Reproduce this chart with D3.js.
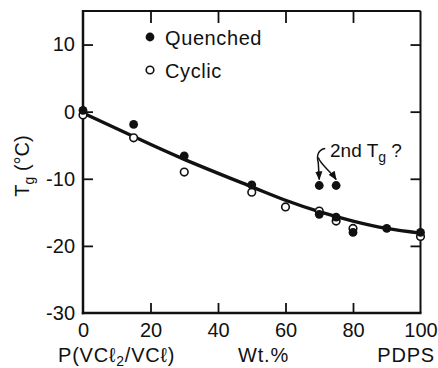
<!DOCTYPE html>
<html>
<head>
<meta charset="utf-8">
<script src="https://cdn.jsdelivr.net/npm/d3@7"></script>
<style>
  html, body { margin: 0; padding: 0; background: #fff; }
  svg { display: block; }
  text { font-family: "Liberation Sans", Arial, sans-serif; fill: #111; }
</style>
</head>
<body>
<svg id="chart" width="438" height="368"></svg>
<script>
// Composition in Wt.% of PDPS
const quenchedX = [0, 15, 30, 50, 70, 75, 80, 90, 100];
const quenchedY = [0.2, -1.9, -6.6, -10.9, -15.3, -15.7, -18.0, -17.4, -18.0];
const cyclicX = [0, 15, 30, 50, 60, 70, 75, 80, 100];
const cyclicY = [-0.5, -3.9, -9.0, -12.0, -14.2, -14.8, -16.3, -17.4, -18.6];
// Possible second glass transition (quenched samples)
const secondTgX = [70, 75];
const secondTgY = [-11, -11];
// Smooth trend line through the data
const fitX = [0, 15, 30, 50, 60, 70, 80, 90, 100];
const fitY = [-0.2, -3.7, -7.1, -11.2, -13.2, -14.9, -16.3, -17.4, -18.1];

const xTicks = [0, 20, 40, 60, 80, 100];
const yTicks = [10, 0, -10, -20, -30];

const svg = d3.select("#chart");
const L = 83, R = 420.5, T = 11, B = 313;
const x = d3.scaleLinear().domain([0, 100]).range([L, R]);
const y = d3.scaleLinear().domain([-30, 15]).range([B, T]);

// Frame
const frame = svg.append("g").attr("stroke", "#111").attr("fill", "none");
frame.append("line").attr("x1", L).attr("x2", R).attr("y1", T).attr("y2", T).attr("stroke-width", 2);
frame.append("line").attr("x1", R).attr("x2", R).attr("y1", T).attr("y2", B).attr("stroke-width", 2);
frame.append("line").attr("x1", L).attr("x2", L).attr("y1", T - 1).attr("y2", B + 1.2).attr("stroke-width", 2.5);
frame.append("line").attr("x1", L - 1.2).attr("x2", R + 1).attr("y1", B).attr("y2", B).attr("stroke-width", 2.5);

function styleAxis(g) {
  g.select(".domain").remove();
  g.selectAll(".tick line").attr("stroke", "#111").attr("stroke-width", 1.8);
  g.selectAll(".tick text").style("font-size", "20px").style("font-family", "'Liberation Sans', Arial, sans-serif").attr("fill", "#111");
}

// Bottom axis with inward ticks and labels
svg.append("g").attr("transform", `translate(0,${B})`)
  .call(d3.axisBottom(x).tickValues(xTicks).tickSizeInner(-10).tickSizeOuter(0).tickPadding(10).tickFormat(d => String(d)))
  .call(styleAxis)
  .call(g => g.selectAll(".tick").filter(d => d === 0 || d === 100).select("line").remove());

// Top axis: inward ticks only
svg.append("g").attr("transform", `translate(0,${T})`)
  .call(d3.axisTop(x).tickValues([20, 40, 60, 80]).tickSizeInner(-12).tickSizeOuter(0).tickFormat(""))
  .call(styleAxis);

// Left axis with inward ticks and labels
svg.append("g").attr("transform", `translate(${L},0)`)
  .call(d3.axisLeft(y).tickValues(yTicks).tickSizeInner(-10).tickSizeOuter(0).tickPadding(8).tickFormat(d => String(d)))
  .call(styleAxis)
  .call(g => g.selectAll(".tick").filter(d => d === -30).select("line").remove());

// Right axis: inward ticks only
svg.append("g").attr("transform", `translate(${R},0)`)
  .call(d3.axisRight(y).tickValues([10, 0, -10, -20]).tickSizeInner(-10).tickSizeOuter(0).tickFormat(""))
  .call(styleAxis);

// Trend curve
const fitData = fitX.map((v, i) => [v, fitY[i]]);
svg.append("path")
  .datum(fitData)
  .attr("fill", "none")
  .attr("stroke", "#111")
  .attr("stroke-width", 3.4)
  .attr("stroke-linecap", "round")
  .attr("d", d3.line().x(d => x(d[0])).y(d => y(d[1])).curve(d3.curveNatural));

// Cyclic (open circles)
svg.append("g").selectAll("circle")
  .data(cyclicX.map((v, i) => [v, cyclicY[i]]))
  .join("circle")
  .attr("cx", d => x(d[0])).attr("cy", d => y(d[1])).attr("r", 3.8)
  .attr("fill", "#fff").attr("stroke", "#111").attr("stroke-width", 1.6);

// Quenched (filled circles)
const qData = quenchedX.map((v, i) => [v, quenchedY[i]])
  .concat(secondTgX.map((v, i) => [v, secondTgY[i]]));
svg.append("g").selectAll("circle")
  .data(qData)
  .join("circle")
  .attr("cx", d => x(d[0])).attr("cy", d => y(d[1])).attr("r", 4.4)
  .attr("fill", "#111");

// Legend
const legend = svg.append("g");
legend.append("circle").attr("cx", 150).attr("cy", 37).attr("r", 4.4).attr("fill", "#111");
legend.append("text").attr("x", 165).attr("y", 45).style("font-size", "20px").style("letter-spacing", "0.6px").text("Quenched");
legend.append("circle").attr("cx", 150).attr("cy", 70).attr("r", 3.8).attr("fill", "#fff").attr("stroke", "#111").attr("stroke-width", 1.6);
legend.append("text").attr("x", 165).attr("y", 78).style("font-size", "20px").style("letter-spacing", "0.6px").text("Cyclic");

// Annotation for the second Tg
const ann = svg.append("g");
const annText = ann.append("text").attr("x", 330).attr("y", 157).style("font-size", "19px");
annText.append("tspan").text("2nd T");
annText.append("tspan").attr("dy", 5).style("font-size", "14px").text("g");
annText.append("tspan").attr("dy", -5).text(" ?");

svg.append("defs").append("marker")
  .attr("id", "head").attr("viewBox", "0 0 10 10").attr("refX", 9).attr("refY", 5)
  .attr("markerWidth", 6).attr("markerHeight", 6).attr("orient", "auto-start-reverse")
  .append("path").attr("d", "M0,1 L10,5 L0,9 Z").attr("fill", "#111");

const ax1 = x(secondTgX[0]), ax2 = x(secondTgX[1]), ay = y(secondTgY[0]) - 6;
ann.append("path")
  .attr("d", `M${ax1 + 6},${ay - 31} C${ax1 - 1},${ay - 30} ${ax1 - 3},${ay - 24} ${ax1 - 1},${ay - 17} L${ax1},${ay}`)
  .attr("fill", "none").attr("stroke", "#111").attr("stroke-width", 1.5).attr("marker-end", "url(#head)");
ann.append("path")
  .attr("d", `M${ax1 - 1},${ay - 22} C${ax1 + 2},${ay - 14} ${ax2 - 6},${ay - 9} ${ax2},${ay}`)
  .attr("fill", "none").attr("stroke", "#111").attr("stroke-width", 1.5).attr("marker-end", "url(#head)");

// Axis titles
const yTitle = svg.append("text")
  .attr("transform", "translate(29,166) rotate(-90)")
  .attr("text-anchor", "middle")
  .style("font-size", "20px");
yTitle.append("tspan").text("T");
yTitle.append("tspan").attr("dy", 5).style("font-size", "14px").text("g");
yTitle.append("tspan").attr("dy", -5).text(" (°C)");

const xTitle = svg.append("text").attr("x", 58).attr("y", 362).style("font-size", "20px").style("letter-spacing", "0.8px");
xTitle.append("tspan").text("P(VCℓ");
xTitle.append("tspan").attr("dy", 4).style("font-size", "14px").text("2");
xTitle.append("tspan").attr("dy", -4).text("/VCℓ)");
svg.append("text").attr("x", 238).attr("y", 362).style("font-size", "20px").style("letter-spacing", "0.8px").text("Wt.%");
svg.append("text").attr("x", 435).attr("y", 362).attr("text-anchor", "end").style("font-size", "20px").style("letter-spacing", "0.8px").text("PDPS");
</script>
</body>
</html>
